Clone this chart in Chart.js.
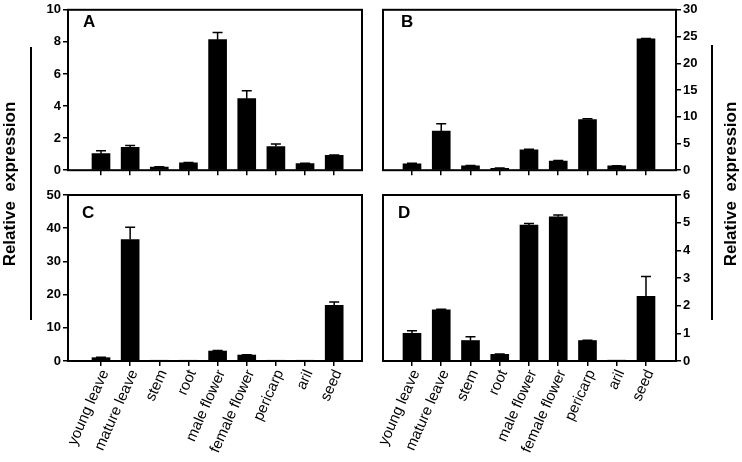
<!DOCTYPE html>
<html>
<head>
<meta charset="utf-8">
<script src="https://cdn.jsdelivr.net/npm/chart.js@4"></script>
<style>
html,body{margin:0;padding:0;background:#fff;}
#wrap{position:relative;width:742px;height:462px;overflow:hidden;font-family:"Liberation Sans",Arial,sans-serif;}
canvas{position:absolute;}
.letter{position:absolute;font-weight:bold;font-size:17px;line-height:17px;color:#000;}
.ytitle{position:absolute;font-weight:bold;font-size:17px;line-height:20px;white-space:nowrap;color:#000;word-spacing:5px;
 width:240px;text-align:center;transform:translate(-50%,-50%) rotate(-90deg);}
.vline{position:absolute;width:2px;background:#000;}
</style>
</head>
<body>
<div id="wrap">
  <canvas id="cA" width="371" height="180" style="left:0;top:0"></canvas>
  <canvas id="cB" width="371" height="180" style="left:371px;top:0"></canvas>
  <canvas id="cC" width="371" height="282" style="left:0;top:180px"></canvas>
  <canvas id="cD" width="371" height="282" style="left:371px;top:180px"></canvas>
  <div class="letter" style="left:83px;top:13px">A</div>
  <div class="letter" style="left:401px;top:13px">B</div>
  <div class="letter" style="left:82px;top:204px">C</div>
  <div class="letter" style="left:398px;top:204px">D</div>
  <div class="ytitle" style="left:10px;top:184px">Relative expression</div>
  <div class="ytitle" style="left:731px;top:184px">Relative expression</div>
  <div class="vline" style="left:30px;top:47px;height:273px"></div>
  <div class="vline" style="left:711px;top:45px;height:275px"></div>
</div>
<script>
const categories = ["young leave","mature leave","stem","root","male flower","female flower","pericarp","aril","seed"];

const valuesA = [1.03, 1.43, 0.20, 0.46, 8.14, 4.46, 1.47, 0.42, 0.93];
const errorsA = [0.18, 0.11, 0.02, 0.02, 0.45, 0.49, 0.17, 0.02, 0.02];

const valuesB = [1.2, 7.3, 0.8, 0.35, 3.8, 1.7, 9.45, 0.8, 24.55];
const errorsB = [0.1, 1.4, 0.1, 0.05, 0.1, 0.1, 0.15, 0.05, 0.1];

const valuesC = [1.0, 36.6, 0.02, 0.02, 3.0, 1.8, 0.03, 0.15, 16.8];
const errorsC = [0.1, 3.7, 0, 0, 0.15, 0.1, 0, 0, 1.0];

const valuesD = [1.0, 1.85, 0.74, 0.24, 4.91, 5.21, 0.74, 0.03, 2.34];
const errorsD = [0.09, 0.02, 0.14, 0.01, 0.06, 0.07, 0.01, 0, 0.71];

const yTicksA = {min:0, max:10, step:2};
const yTicksB = {min:0, max:30, step:5};
const yTicksC = {min:0, max:50, step:10};
const yTicksD = {min:0, max:6, step:1};

const FONT = '"Liberation Sans", Arial, sans-serif';

const errPlugin = {
  id: 'errbars',
  afterDatasetsDraw(chart) {
    const ctx = chart.ctx;
    const errs = chart.options.plugins.errbars.errors;
    const meta = chart.getDatasetMeta(0);
    const ys = chart.scales.y;
    ctx.save();
    ctx.strokeStyle = '#000';
    ctx.lineWidth = 1.5;
    meta.data.forEach((bar, i) => {
      const e = errs[i];
      if (!e) return;
      const v = chart.data.datasets[0].data[i].y;
      const yt = ys.getPixelForValue(v + e);
      ctx.beginPath();
      ctx.moveTo(bar.x, bar.y);
      ctx.lineTo(bar.x, yt);
      ctx.moveTo(bar.x - 5, yt);
      ctx.lineTo(bar.x + 5, yt);
      ctx.stroke();
    });
    const a = chart.chartArea;
    ctx.lineWidth = 2;
    ctx.strokeRect(a.left, a.top, a.right - a.left, a.bottom - a.top);
    ctx.restore();
  }
};

function makeChart(id, values, errors, yt, cfg) {
  const data = values.map((v, i) => ({x: i, y: v}));
  return new Chart(document.getElementById(id), {
    type: 'bar',
    data: { datasets: [{ data, backgroundColor: '#000', borderWidth: 0, barThickness: 18 }] },
    plugins: [errPlugin],
    options: {
      responsive: false,
      animation: false,
      devicePixelRatio: 1,
      layout: { padding: cfg.padding },
      plugins: { legend: {display:false}, tooltip: {enabled:false}, errbars: {errors} },
      scales: {
        x: {
          type: 'linear',
          offset: false,
          min: cfg.xmin, max: cfg.xmax,
          afterBuildTicks: s => { s.ticks = categories.map((c, i) => ({value: i})); },
          afterFit: s => { s.height = cfg.xh; },
          border: {display:false},
          grid: {display:true, offset:false, drawOnChartArea:false, drawTicks:true, tickLength:5, color:'#000', lineWidth:1.5},
          ticks: {
            display: cfg.labels,
            autoSkip: false,
            minRotation: 66, maxRotation: 66,
            padding: 1,
            labelOffset: 4,
            color: '#000',
            font: {family: FONT, size: 15},
            callback: v => categories[v]
          }
        },
        y: {
          position: cfg.ypos,
          min: yt.min, max: yt.max,
          afterFit: s => { s.width = cfg.yw; },
          border: {display:false},
          grid: {display:true, drawOnChartArea:false, drawTicks:true, tickLength:5, color:'#000', lineWidth:1.5},
          ticks: {stepSize: yt.step, padding: 2, color:'#000', font: {family: FONT, size: 13, weight: 'bold'}}
        }
      }
    }
  });
}

makeChart('cA', valuesA, errorsA, yTicksA, {padding:{left:0,right:9,top:6,bottom:0}, xmin:-1.132, xmax:8.954, xh:9, labels:false, ypos:'left', yw:68});
makeChart('cB', valuesB, errorsB, yTicksB, {padding:{left:12,right:0,top:6,bottom:0}, xmin:-0.991, xmax:9.026, xh:9, labels:false, ypos:'right', yw:66});
makeChart('cC', valuesC, errorsC, yTicksC, {padding:{left:0,right:9,top:15,bottom:0}, xmin:-1.132, xmax:8.954, xh:101, labels:true, ypos:'left', yw:68});
makeChart('cD', valuesD, errorsD, yTicksD, {padding:{left:12,right:0,top:15,bottom:0}, xmin:-0.991, xmax:9.026, xh:101, labels:true, ypos:'right', yw:66});
</script>
</body>
</html>
